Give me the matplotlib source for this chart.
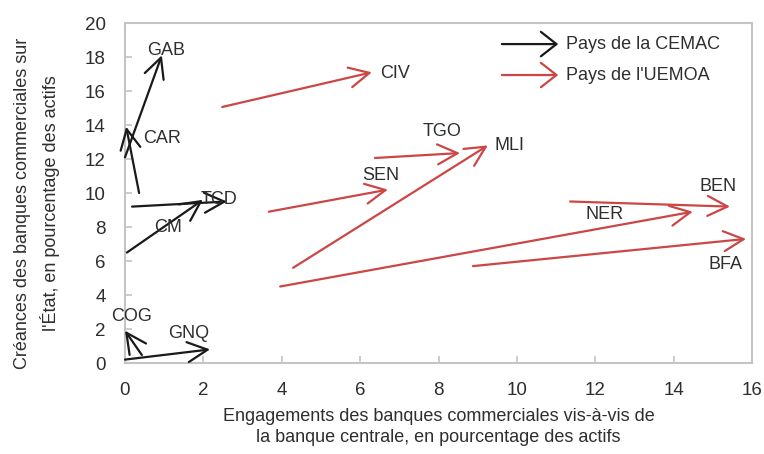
import matplotlib
matplotlib.use("Agg")
import matplotlib.pyplot as plt

plt.rcParams['font.family'] = ['Liberation Sans', 'DejaVu Sans']

# CEMAC countries (black arrows): start -> end
cemac = ["GAB", "CAR", "CM", "TCD", "COG", "GNQ"]
cemac_x0 = [0.0, 0.36, 0.05, 0.18, 0.43, 0.0]
cemac_y0 = [12.1, 10.0, 6.5, 9.2, 0.47, 0.2]
cemac_x1 = [0.94, 0.03, 1.99, 2.6, 0.0, 2.17]
cemac_y1 = [18.1, 13.9, 9.6, 9.5, 1.9, 0.8]
cemac_lx = [1.04, 0.94, 1.1, 2.4, 0.18, 1.62]
cemac_ly = [18.4, 13.2, 8.0, 9.6, 2.75, 1.75]

# UEMOA countries (red arrows): start -> end
uemoa = ["CIV", "TGO", "MLI", "SEN", "NER", "BEN", "BFA"]
uemoa_x0 = [2.48, 6.38, 4.29, 3.67, 3.96, 11.36, 8.88]
uemoa_y0 = [15.06, 12.06, 5.6, 8.9, 4.5, 9.5, 5.7]
uemoa_x1 = [6.30, 8.55, 9.26, 6.71, 14.49, 15.44, 15.85]
uemoa_y1 = [17.1, 12.35, 12.8, 10.2, 8.9, 9.2, 7.3]
uemoa_lx = [6.9, 8.1, 9.8, 6.53, 12.25, 15.13, 15.33]
uemoa_ly = [17.05, 13.6, 12.8, 11.0, 8.75, 10.4, 5.8]

legend_labels = ["Pays de la CEMAC", "Pays de l'UEMOA"]
xlabel = "Engagements des banques commerciales vis-à-vis de\nla banque centrale, en pourcentage des actifs"
ylabel = "Créances des banques commerciales sur\nl'État, en pourcentage des actifs"

BLACK = "#1a1a1a"
RED = "#cc4646"
GREY = "#c4c4c4"
TXT = "#2e2e2e"
ARROW = "->,head_length=0.9,head_width=0.45"
LEG_ARROW = "->,head_length=0.7,head_width=0.55"

fig = plt.figure(figsize=(7.64, 4.54), dpi=100)
ax = fig.add_axes([125/764, 1-363/454, 627/764, 340/454])
ax.set_xlim(0, 16)
ax.set_ylim(0, 20)
ax.set_xticks(range(0, 17, 2))
ax.set_yticks(range(0, 21, 2))

for s in ax.spines.values():
    s.set_color(GREY)
    s.set_linewidth(1.5)
ax.tick_params(direction='in', length=5, width=1.2, color=GREY,
               labelsize=13.5, labelcolor=TXT)
ax.tick_params(axis='x', pad=14)
ax.tick_params(axis='y', pad=14)

def draw(names, x0, y0, x1, y1, lx, ly, color):
    for n, a, b, c, d, tx, ty in zip(names, x0, y0, x1, y1, lx, ly):
        ax.annotate("", xy=(c, d), xytext=(a, b),
                    arrowprops=dict(arrowstyle=ARROW, color=color, lw=1.6,
                                    mutation_scale=16, shrinkA=0, shrinkB=0))
        ax.text(tx, ty, n, ha='center', va='center', fontsize=13, color=TXT)

draw(cemac, cemac_x0, cemac_y0, cemac_x1, cemac_y1, cemac_lx, cemac_ly, BLACK)
draw(uemoa, uemoa_x0, uemoa_y0, uemoa_x1, uemoa_y1, uemoa_lx, uemoa_ly, RED)

# Legend drawn manually with arrows
for i, (lab, col) in enumerate(zip(legend_labels, [BLACK, RED])):
    yy = 0.938 - i * 0.091
    ax.annotate("", xy=(0.691, yy), xytext=(0.601, yy), xycoords='axes fraction',
                textcoords='axes fraction',
                arrowprops=dict(arrowstyle=LEG_ARROW, color=col, lw=1.6,
                                mutation_scale=16, shrinkA=0, shrinkB=0))
    ax.text(0.703, yy, lab, transform=ax.transAxes, ha='left', va='center',
            fontsize=13, color=TXT)

ax.set_xlabel(xlabel, fontsize=13, color=TXT, labelpad=6, linespacing=1.35)
ax.set_ylabel(ylabel, fontsize=13, color=TXT, linespacing=1.55)
ax.yaxis.set_label_coords(-0.104, 0.47)

fig.savefig("out.png", dpi=100)
